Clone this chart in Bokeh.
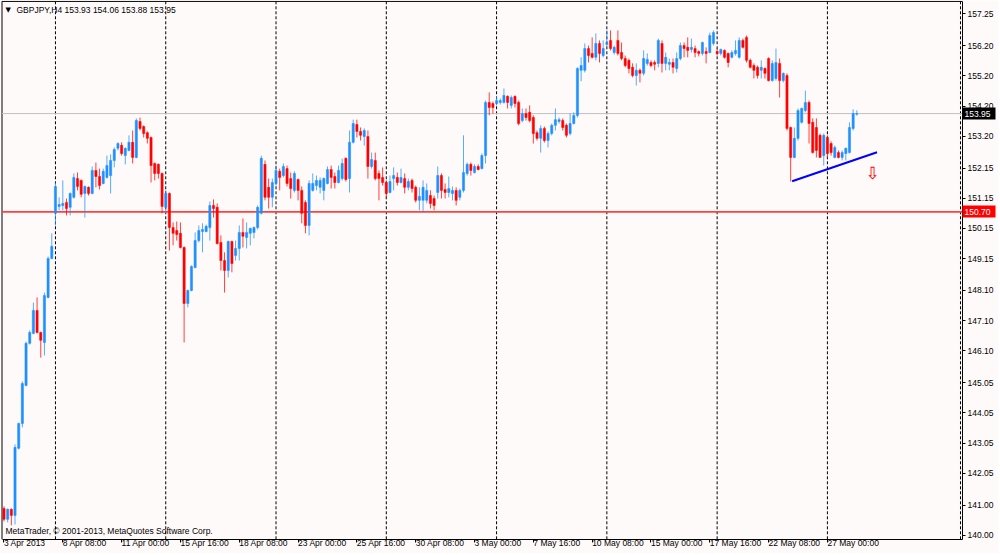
from bokeh.plotting import figure
from bokeh.models import (Range1d, FixedTicker, PrintfTickFormatter, Label, LinearAxis,
                          ColumnDataSource)
from bokeh.embed import file_html
from bokeh.resources import INLINE

# ---- data: GBPJPY H4 candles (bar index 0 = 3 Apr 2013 16:00) ----
opens = [140.89, 140.53, 140.86, 140.66, 142.88, 143.70, 144.96, 146.35, 146.68, 147.44,
         146.71, 146.38, 147.87, 149.16, 150.65, 150.88, 150.91, 151.01, 150.85, 151.18,
         151.80, 151.74, 151.31, 151.51, 151.31, 152.07, 151.87, 151.64, 151.84, 151.90,
         152.40, 152.80, 152.90, 152.56, 152.73, 153.00, 152.50, 153.69, 153.52, 153.32,
         153.16, 152.30, 152.27, 151.97, 150.85, 151.31, 150.18, 150.08, 149.99, 149.52,
         147.67, 148.10, 148.86, 149.75, 150.05, 150.05, 150.18, 150.91, 150.85, 149.69,
         149.09, 148.76, 149.72, 149.26, 149.49, 150.02, 149.85, 149.99, 150.02, 150.18,
         150.65, 152.27, 151.51, 151.18, 151.64, 152.04, 151.90, 152.13, 151.80, 151.41,
         151.77, 151.41, 151.01, 150.25, 151.41, 151.57, 151.51, 151.41, 151.64, 152.10,
         151.87, 151.67, 151.80, 152.47, 151.80, 153.00, 153.59, 153.36, 153.19, 153.19,
         152.20, 152.40, 151.97, 151.84, 151.67, 151.34, 151.80, 151.84, 151.67, 151.80,
         151.51, 151.74, 151.51, 151.08, 151.08, 151.08, 151.24, 151.14, 151.34, 151.90,
         151.44, 151.34, 151.31, 151.41, 151.18, 151.41, 151.97, 152.27, 152.00, 152.20,
         152.13, 152.56, 154.32, 154.28, 154.28, 154.32, 154.32, 154.52, 154.22, 154.52,
         154.32, 153.72, 153.95, 153.99, 153.82, 153.32, 153.13, 153.46, 153.06, 153.29,
         153.56, 153.69, 153.72, 153.56, 153.29, 153.62, 153.89, 155.38, 155.38, 156.10,
         155.94, 155.81, 156.27, 155.87, 156.24, 156.37, 155.97, 156.37, 155.97, 155.77,
         155.71, 155.48, 155.21, 155.38, 155.28, 155.61, 155.64, 155.64, 155.61, 156.27,
         155.61, 155.58, 155.64, 155.44, 155.77, 156.20, 156.14, 156.07, 156.10, 156.00,
         155.94, 156.00, 155.97, 156.27, 156.00, 155.94, 156.04, 155.94, 155.81, 155.94,
         155.81, 156.37, 156.47, 155.71, 155.54, 155.48, 155.38, 155.44, 155.77, 155.04,
         155.11, 155.61, 155.04, 155.21, 153.49, 152.50, 153.13, 153.66, 154.05, 154.32,
         153.66, 153.49, 153.23, 152.56, 153.16, 152.96, 152.50, 152.66, 152.50, 152.63,
         152.66, 153.46, 153.93]
highs = [140.96, 140.89, 140.89, 143.01, 143.73, 145.09, 146.41, 146.78, 147.70, 147.87,
         146.74, 148.03, 149.22, 149.99, 151.67, 151.18, 151.74, 151.14, 151.34, 151.97,
         152.00, 151.77, 151.57, 151.54, 152.20, 152.33, 152.13, 152.13, 152.56, 152.60,
         152.83, 153.00, 153.00, 152.83, 153.23, 153.39, 153.79, 153.82, 153.56, 153.36,
         153.19, 152.33, 152.30, 152.00, 151.41, 151.34, 150.35, 150.38, 150.35, 149.56,
         148.13, 148.93, 150.02, 150.25, 150.32, 150.28, 151.04, 151.11, 150.98, 149.92,
         149.36, 149.75, 149.75, 149.75, 150.25, 150.48, 150.35, 150.18, 150.22, 150.91,
         152.56, 152.40, 151.80, 151.80, 152.23, 152.13, 152.30, 152.23, 152.00, 152.04,
         151.80, 151.54, 151.08, 151.74, 151.97, 151.90, 151.84, 151.84, 152.20, 152.23,
         152.00, 152.23, 152.46, 152.50, 153.39, 153.75, 153.75, 153.49, 153.46, 153.39,
         152.66, 152.66, 152.07, 152.17, 151.74, 151.90, 152.17, 152.00, 152.13, 151.97,
         151.80, 151.80, 151.57, 151.51, 151.74, 151.64, 151.41, 151.24, 152.20, 151.97,
         151.64, 151.87, 151.54, 151.51, 151.47, 153.23, 152.33, 152.33, 152.27, 152.27,
         152.63, 154.38, 154.65, 154.35, 154.52, 154.45, 154.78, 154.55, 154.55, 154.55,
         154.38, 154.12, 154.12, 154.22, 153.89, 153.39, 153.56, 153.52, 153.36, 153.62,
         154.12, 153.82, 153.79, 153.62, 153.95, 153.99, 155.48, 155.81, 156.27, 156.20,
         156.47, 156.60, 156.37, 156.37, 156.70, 156.70, 156.20, 156.70, 156.30, 155.87,
         155.77, 155.61, 155.61, 155.44, 156.04, 155.94, 155.71, 155.71, 156.43, 156.37,
         155.97, 155.77, 155.77, 155.97, 156.30, 156.30, 156.47, 156.43, 156.20, 156.04,
         156.33, 156.14, 156.63, 156.70, 156.10, 156.10, 156.07, 155.97, 156.04, 156.37,
         156.47, 156.43, 156.53, 155.77, 155.61, 155.54, 155.71, 155.48, 155.81, 155.71,
         156.10, 155.77, 155.31, 155.28, 153.52, 153.49, 154.12, 154.15, 154.71, 154.38,
         153.79, 153.79, 153.29, 153.29, 153.23, 153.03, 152.89, 152.73, 152.73, 152.83,
         153.66, 154.09, 154.06]
lows = [140.46, 140.43, 140.33, 140.36, 142.84, 143.57, 144.93, 146.31, 146.65, 146.68,
        145.88, 145.95, 147.84, 149.13, 150.25, 150.75, 150.75, 150.58, 150.58, 151.14,
        151.41, 151.18, 150.51, 151.24, 151.28, 151.51, 151.44, 151.61, 151.80, 151.31,
        152.17, 152.73, 152.56, 152.27, 152.70, 152.30, 152.47, 153.39, 153.16, 152.96,
        151.67, 151.74, 151.80, 150.65, 150.65, 149.42, 149.59, 149.75, 149.49, 146.38,
        147.54, 148.07, 148.83, 149.69, 149.36, 150.02, 149.75, 150.51, 149.62, 148.76,
        148.03, 148.53, 148.70, 149.09, 149.09, 149.52, 149.49, 149.59, 149.82, 150.12,
        150.61, 151.08, 150.81, 150.85, 151.57, 151.41, 151.84, 151.54, 151.14, 151.34,
        151.08, 150.32, 149.99, 149.92, 151.37, 151.41, 151.31, 151.08, 151.61, 151.47,
        151.47, 151.64, 151.74, 151.70, 151.34, 152.96, 153.16, 153.06, 152.89, 151.80,
        152.13, 151.74, 151.08, 151.57, 151.14, 151.31, 151.41, 151.57, 151.64, 151.31,
        151.41, 151.34, 151.01, 150.75, 150.68, 150.98, 150.81, 150.75, 151.14, 151.14,
        151.14, 151.18, 151.08, 150.91, 151.08, 151.34, 151.90, 151.90, 151.97, 152.07,
        152.10, 152.30, 153.89, 153.95, 154.22, 154.25, 154.28, 154.12, 154.12, 154.15,
        153.56, 153.66, 153.72, 153.66, 152.96, 153.06, 152.66, 152.99, 152.83, 153.23,
        153.39, 153.62, 153.39, 153.16, 153.23, 153.59, 153.82, 155.02, 155.31, 155.64,
        155.77, 155.71, 155.64, 155.81, 156.17, 156.04, 155.90, 155.87, 155.71, 155.48,
        155.28, 155.15, 154.88, 154.98, 155.21, 155.54, 155.48, 155.38, 155.48, 155.31,
        155.38, 155.38, 155.28, 155.31, 155.71, 155.81, 155.81, 155.97, 155.81, 155.84,
        155.87, 155.61, 155.94, 156.20, 155.87, 155.87, 155.77, 155.48, 155.77, 155.87,
        155.77, 156.10, 155.64, 155.44, 155.11, 155.11, 155.11, 155.11, 155.01, 155.01,
        155.04, 154.48, 154.98, 153.39, 151.70, 152.47, 153.06, 153.62, 153.99, 152.96,
        152.63, 152.50, 152.50, 152.23, 152.47, 152.56, 152.47, 152.47, 152.40, 152.40,
        152.63, 153.39, 153.88]
closes = [140.53, 140.86, 140.66, 142.91, 143.70, 145.02, 146.35, 146.71, 147.44, 146.71,
          146.45, 147.93, 149.16, 149.56, 151.54, 150.94, 150.98, 150.81, 151.31, 151.84,
          151.54, 151.28, 151.54, 151.31, 152.07, 151.87, 151.57, 152.04, 152.23, 152.40,
          152.76, 152.96, 152.63, 152.80, 153.00, 152.50, 153.72, 153.46, 153.29, 153.13,
          152.23, 151.97, 151.97, 150.88, 151.31, 150.18, 149.99, 149.95, 149.52, 147.67,
          148.10, 148.89, 149.75, 150.08, 150.12, 150.22, 150.91, 150.81, 149.65, 149.09,
          148.76, 149.72, 148.99, 149.49, 150.02, 149.89, 150.02, 150.15, 150.18, 150.85,
          152.47, 151.18, 151.18, 151.67, 152.07, 151.84, 152.20, 151.64, 151.47, 151.97,
          151.41, 150.65, 150.25, 151.64, 151.64, 151.74, 151.74, 151.80, 152.10, 151.84,
          151.67, 152.07, 152.30, 151.77, 153.00, 153.62, 153.36, 153.23, 153.39, 152.20,
          152.43, 151.80, 151.80, 151.67, 151.31, 151.70, 151.90, 151.67, 151.84, 151.51,
          151.70, 151.47, 151.08, 151.21, 151.51, 151.41, 150.98, 150.91, 151.90, 151.41,
          151.34, 151.47, 151.41, 151.08, 151.41, 152.00, 152.27, 152.07, 152.20, 152.10,
          152.56, 154.32, 154.15, 154.15, 154.38, 154.38, 154.55, 154.32, 154.48, 154.28,
          153.62, 153.95, 153.82, 153.72, 153.29, 153.13, 153.46, 153.06, 153.29, 153.56,
          153.75, 153.75, 153.49, 153.23, 153.62, 153.89, 155.44, 155.54, 156.10, 155.87,
          155.81, 156.27, 155.94, 156.10, 156.30, 156.10, 156.14, 155.94, 155.77, 155.54,
          155.44, 155.21, 155.38, 155.28, 155.77, 155.74, 155.54, 155.58, 156.37, 155.61,
          155.81, 155.64, 155.48, 155.77, 156.20, 156.10, 156.04, 156.14, 155.97, 155.94,
          156.30, 155.94, 156.53, 156.63, 155.94, 156.07, 155.81, 155.64, 155.97, 156.04,
          156.37, 156.14, 155.71, 155.48, 155.38, 155.21, 155.48, 155.28, 155.04, 155.61,
          155.64, 155.04, 155.28, 153.46, 152.50, 153.13, 154.05, 154.12, 154.32, 153.62,
          152.66, 152.73, 152.50, 153.23, 152.63, 152.66, 152.83, 152.50, 152.66, 152.80,
          153.49, 153.95, 153.95]

time_tick_bars = [0, 16, 32, 48, 64, 80, 96, 112, 128, 144, 160, 176, 192, 208, 224]
time_tick_labels = ["3 Apr 2013", "8 Apr 08:00", "11 Apr 00:00", "15 Apr 16:00",
                    "18 Apr 08:00", "23 Apr 00:00", "25 Apr 16:00", "30 Apr 08:00",
                    "3 May 00:00", "7 May 16:00", "10 May 08:00", "15 May 00:00",
                    "17 May 16:00", "22 May 08:00", "27 May 00:00"]
separator_bars = [14, 44, 74, 104, 134, 164, 194, 224]
price_ticks = [140.00, 141.00, 142.05, 143.05, 144.05, 145.05, 146.10, 147.10, 148.10,
               149.15, 150.15, 151.15, 152.15, 153.20, 154.20, 155.20, 156.20, 157.25]
bid_price = 153.95
level_price = 150.70
trend_bars = [214.4, 237.5]
trend_prices = [151.71, 152.67]
arrow_bar = 236.3
arrow_price = 152.0
symbol_text = "GBPJPY,H4  153.93 154.06 153.88 153.95"
copyright_text = "MetaTrader, \u00a9 2001-2013, MetaQuotes Software Corp."

# chart window (bars / prices): border, price-scale line and time-scale line positions
X_START, X_BORDER, X_AXIS, X_END = -0.95, -0.54, 260.75, 270.54
Y_START, Y_AXIS, Y_BORDER, Y_END = 139.40, 139.87, 157.66, 157.69

BLUE = "#1E90FF"
RED = "#FF0000"
BG = "#FFFAFA"
FONT = "Liberation Sans"
FS = "8.5px"

n = len(opens)
colors = [BLUE if c >= o else RED for o, c in zip(opens, closes)]
src = ColumnDataSource(dict(
    x=list(range(n)),
    o=opens, h=highs, l=lows, c=closes,
    top=[max(o, c) for o, c in zip(opens, closes)],
    bottom=[min(o, c) for o, c in zip(opens, closes)],
    color=colors,
))

p = figure(width=998, height=553, x_range=Range1d(X_START, X_END), y_range=Range1d(Y_START, Y_END),
           output_backend="svg", toolbar_location=None,
           x_axis_location=None, y_axis_location=None,
           min_border_left=0, min_border_top=0, min_border_right=0, min_border_bottom=0,
           background_fill_color=BG, border_fill_color=BG)
p.outline_line_color = None
p.grid.visible = False

# chart border (left / top) and weekly period separators
p.segment(x0=[X_BORDER, X_BORDER], y0=[Y_AXIS, Y_BORDER], x1=[X_BORDER, X_AXIS],
          y1=[Y_BORDER, Y_BORDER], line_color="black", line_width=1)
p.segment(x0=separator_bars, y0=Y_AXIS, x1=separator_bars, y1=Y_BORDER,
          line_color="black", line_dash="3 2", line_width=1)
p.segment(x0=[X_AXIS - 0.55], y0=Y_AXIS, x1=[X_AXIS - 0.55], y1=Y_BORDER,
          line_color="black", line_dash="3 2", line_width=1)

# horizontal levels
p.segment(x0=[X_BORDER], y0=[bid_price], x1=[X_AXIS], y1=[bid_price],
          line_color="#C0C0C0", line_width=1)
p.segment(x0=[X_BORDER], y0=[level_price], x1=[X_AXIS], y1=[level_price],
          line_color="#FF4040", line_width=1.6)

# candles
p.segment(x0="x", y0="l", x1="x", y1="h", line_color="color", line_width=1,
          line_alpha=0.75, source=src)
p.vbar(x="x", width=0.6, top="top", bottom="bottom", fill_color="color",
       line_color="color", line_width=0.5, source=src)

# trend line and arrow
p.line(trend_bars, trend_prices, line_color="#0000FF", line_width=2)
p.add_layout(Label(x=arrow_bar, y=arrow_price, text="\u21e9", text_color=RED,
                   text_font="DejaVu Sans", text_font_size="17px",
                   text_align="center", text_baseline="middle"))

# time scale
xaxis = LinearAxis(fixed_location=Y_AXIS, bounds=(X_BORDER, X_AXIS),
                   ticker=FixedTicker(ticks=time_tick_bars),
                   major_label_overrides={b: s for b, s in zip(time_tick_bars, time_tick_labels)},
                   major_label_orientation=-0.0001,   # labels start at their tick
                   minor_tick_line_color=None, major_tick_in=0, major_tick_out=3,
                   major_label_standoff=1)
# price scale
yaxis = LinearAxis(fixed_location=X_AXIS, bounds=(Y_AXIS, Y_BORDER),
                   ticker=FixedTicker(ticks=price_ticks),
                   formatter=PrintfTickFormatter(format="%.2f"),
                   minor_tick_line_color=None, major_tick_in=0, major_tick_out=3,
                   major_label_standoff=2)
for ax in (xaxis, yaxis):
    ax.axis_line_color = "black"
    ax.axis_line_width = 1
    ax.major_tick_line_color = "black"
    ax.major_label_text_font = FONT
    ax.major_label_text_font_size = FS
    ax.major_label_text_color = "black"
p.add_layout(xaxis, "below")
p.add_layout(yaxis, "right")

# price tags on the price scale (the thick tick mark forms the tag box)
for price, fill in ((bid_price, "black"), (level_price, RED)):
    tag = LinearAxis(fixed_location=X_AXIS, ticker=FixedTicker(ticks=[price]),
                     formatter=PrintfTickFormatter(format="%.2f"),
                     axis_line_color=None, minor_tick_line_color=None,
                     major_tick_in=0, major_tick_out=33, major_tick_line_width=12,
                     major_tick_line_color=fill, major_tick_line_cap="butt",
                     major_label_standoff=-31, major_label_text_color="white",
                     major_label_text_font=FONT, major_label_text_font_size=FS)
    p.add_layout(tag, "right")

# header and copyright
p.add_layout(Label(x=X_START, y=Y_END, text="\u25bc", x_offset=5, y_offset=-5,
                   text_baseline="top", text_color="black", text_font="DejaVu Sans",
                   text_font_size="7px"))
p.add_layout(Label(x=X_START, y=Y_END, text=symbol_text, x_offset=16, y_offset=-4,
                   text_baseline="top", text_color="black", text_font=FONT,
                   text_font_size=FS))
p.add_layout(Label(x=X_START, y=Y_AXIS, text=copyright_text, x_offset=5, y_offset=3,
                   text_baseline="bottom", text_color="black", text_font=FONT,
                   text_font_size=FS))

open("out.html", "w").write(file_html(p, INLINE))
